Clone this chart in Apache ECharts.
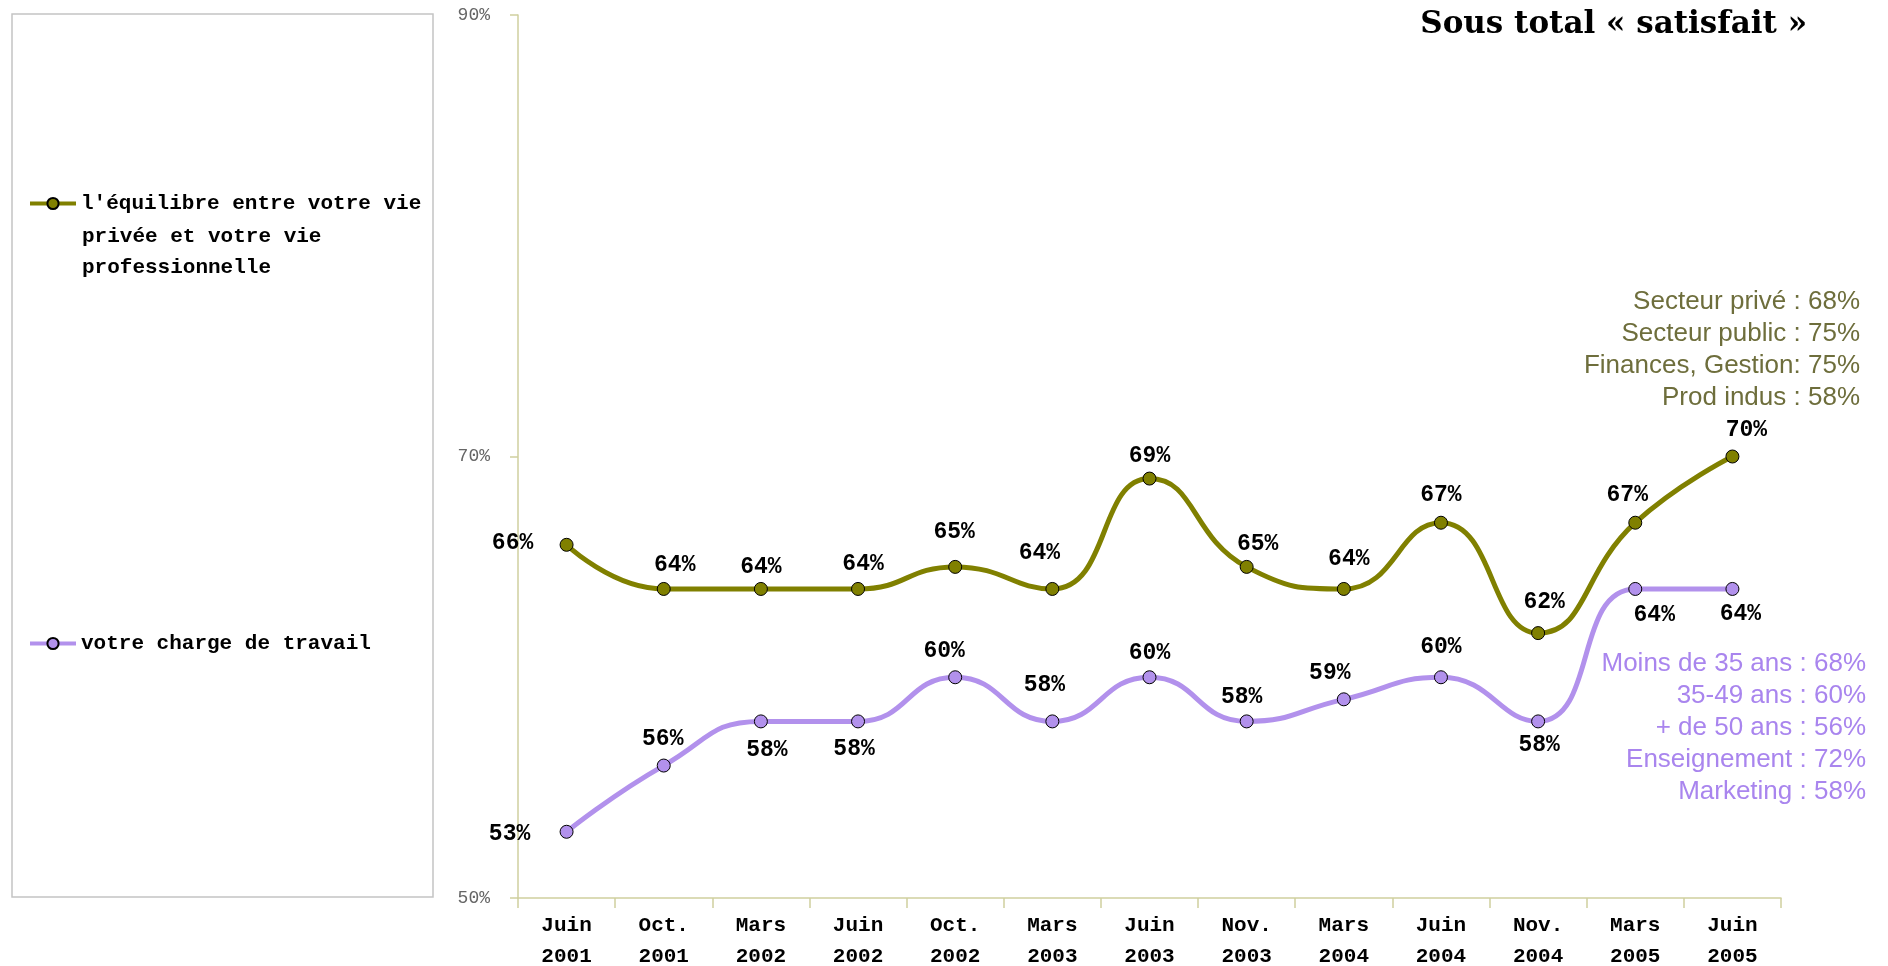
<!DOCTYPE html>
<html>
<head>
<meta charset="utf-8">
<script src="https://cdn.jsdelivr.net/npm/echarts@6/dist/echarts.min.js"></script>
<style>
  html, body { margin: 0; padding: 0; background: #fff; }
  #chart { width: 1888px; height: 966px; }
</style>
</head>
<body>
<div id="chart"></div>
<script>
// periodes d'enquete
const periods = ['Juin\n2001', 'Oct.\n2001', 'Mars\n2002', 'Juin\n2002', 'Oct.\n2002', 'Mars\n2003', 'Juin\n2003',
  'Nov.\n2003', 'Mars\n2004', 'Juin\n2004', 'Nov.\n2004', 'Mars\n2005', 'Juin\n2005']
// sous total satisfait (%)
const equilibre = [66, 64, 64, 64, 65, 64, 69, 65, 64, 67, 62, 67, 70]
const charge = [53, 56, 58, 58, 60, 58, 60, 58, 59, 60, 58, 64, 64]
const nameEquilibre = "l'équilibre entre votre vie privée et votre vie professionnelle"
const nameCharge = 'votre charge de travail'
const notesEquilibre = ['Secteur privé : 68%', 'Secteur public : 75%', 'Finances, Gestion: 75%', 'Prod indus : 58%']
const notesCharge = ['Moins de 35 ans : 68%', '35-49 ans : 60%', '+ de 50 ans : 56%', 'Enseignement : 72%', 'Marketing : 58%']

// decalage des etiquettes par rapport au point
const offEquilibre = [[-54, -2], [11, -24], [0, -22], [5, -25], [-1, -35], [-13, -36], [0, -22],
  [11, -23], [5, -30], [0, -28], [6, -31], [-8, -28], [14, -26]]
const offCharge = [[-57, 2], [-1, -26], [6, 29], [-4, 28], [-11, -26], [-8, -36], [0, -24],
  [-5, -24], [-14, -26], [0, -30], [1, 24], [19, 26], [8, 25]]

const OLIVE = '#808000'
const LAVENDER = '#b291ec'
const mono = '"Liberation Mono", "DejaVu Sans Mono", monospace'

const chart = echarts.init(document.getElementById('chart'))

function buildData(values, offsets) {
  return values.map((v, i) => ({
    value: v,
    label: { offset: offsets[i] }
  }))
}

function makeSeries(name, values, offsets, color) {
  return {
    name: name,
    type: 'line',
    smooth: true,
    data: buildData(values, offsets),
    symbol: 'circle',
    symbolSize: 13,
    lineStyle: { color: color, width: 5 },
    itemStyle: { color: color, borderColor: '#000', borderWidth: 1 },
    label: {
      show: true,
      position: 'inside',
      formatter: '{c}%',
      fontFamily: mono,
      fontWeight: 'bold',
      fontSize: 23,
      color: '#000'
    },
    emphasis: { disabled: true }
  }
}

const graphics = [
  {
    type: 'rect',
    shape: { x: 12, y: 14, width: 421, height: 883 },
    style: { fill: 'none', stroke: '#c4c4c4', lineWidth: 1.5 }
  },
  {
    type: 'text',
    style: { x: 82, y: 237, text: 'privée et votre vie', font: 'bold 21px ' + mono, fill: '#000', textVerticalAlign: 'middle' }
  },
  {
    type: 'text',
    style: { x: 82, y: 268, text: 'professionnelle', font: 'bold 21px ' + mono, fill: '#000', textVerticalAlign: 'middle' }
  }
]
notesEquilibre.forEach((t, i) => {
  graphics.push({
    type: 'text',
    style: { x: 1860, y: 302 + i * 32, text: t, font: '26px "Liberation Sans", Arial, sans-serif',
      fill: '#6e6e3c', textAlign: 'right', textVerticalAlign: 'middle' }
  })
})
notesCharge.forEach((t, i) => {
  graphics.push({
    type: 'text',
    style: { x: 1866, y: 664 + i * 32, text: t, font: '26px "Liberation Sans", Arial, sans-serif',
      fill: '#a985ee', textAlign: 'right', textVerticalAlign: 'middle' }
  })
})

const legendText = { fontFamily: mono, fontWeight: 'bold', fontSize: 21, color: '#000' }

const option = {
  animation: false,
  backgroundColor: '#fff',
  title: {
    text: 'Sous total « satisfait »',
    right: 76,
    top: 4,
    textStyle: { fontFamily: '"DejaVu Serif", serif', fontWeight: 900, fontSize: 31, color: '#000' }
  },
  legend: [
    {
      data: [nameEquilibre],
      left: 28,
      top: 193,
      padding: 0,
      itemWidth: 46,
      itemHeight: 14,
      lineStyle: { width: 4 },
      formatter: () => "l'équilibre entre votre vie",
      textStyle: legendText,
      selectedMode: false
    },
    {
      data: [nameCharge],
      left: 28,
      top: 633,
      padding: 0,
      itemWidth: 46,
      itemHeight: 14,
      lineStyle: { width: 4 },
      textStyle: legendText,
      selectedMode: false
    }
  ],
  grid: { left: 518, top: 15, right: 107, bottom: 68, outerBoundsMode: 'none', containLabel: false },
  xAxis: {
    type: 'category',
    data: periods,
    axisLine: { lineStyle: { color: '#cfcf9f', width: 1.5 } },
    axisTick: { show: true, length: 10, lineStyle: { color: '#cfcf9f', width: 1.5 } },
    axisLabel: {
      fontFamily: mono,
      fontWeight: 'bold',
      fontSize: 21,
      lineHeight: 31,
      color: '#000',
      margin: 12
    }
  },
  yAxis: {
    type: 'value',
    min: 50,
    max: 90,
    interval: 20,
    splitLine: { show: false },
    axisLine: { show: true, lineStyle: { color: '#cfcf9f', width: 1.5 } },
    axisTick: { show: true, length: 8, lineStyle: { color: '#cfcf9f', width: 1.5 } },
    axisLabel: {
      formatter: '{value}%',
      fontFamily: mono,
      fontSize: 18,
      color: '#666',
      margin: 28
    }
  },
  series: [
    makeSeries(nameEquilibre, equilibre, offEquilibre, OLIVE),
    makeSeries(nameCharge, charge, offCharge, LAVENDER)
  ],
  graphic: graphics
}

chart.setOption(option)
</script>
</body>
</html>
